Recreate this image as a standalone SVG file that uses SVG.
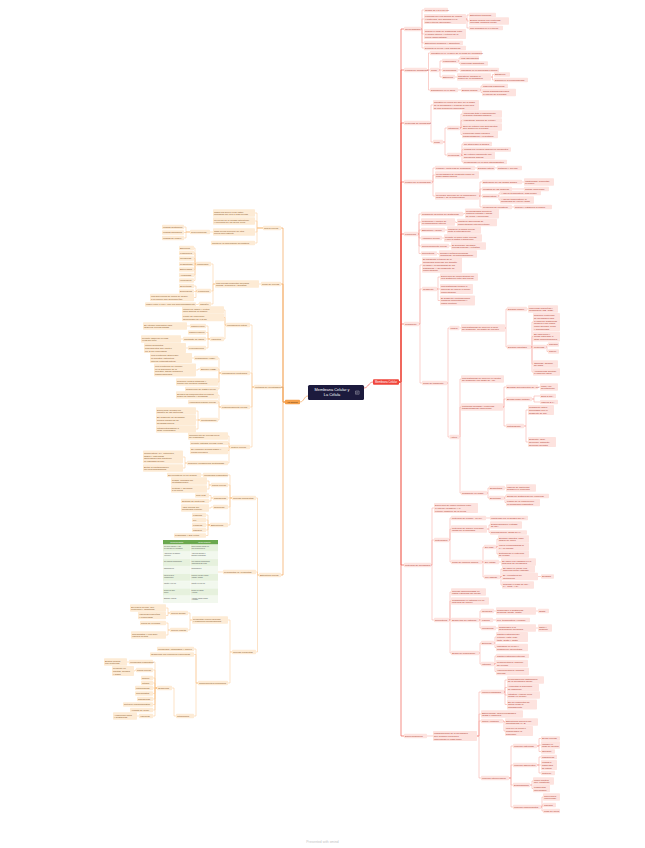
<svg xmlns="http://www.w3.org/2000/svg" width="645" height="848" viewBox="0 0 645 848">
<style>
text{font-family:"Liberation Sans",Arial,sans-serif;font-size:2.4px}
.R rect{fill:#fde3df;rx:.8px}
.R text{fill:#b03a2e}
.L rect{fill:#fdebd5;rx:.8px}
.L text{fill:#8b5a2b}
.cr{fill:none;stroke:#f6a29a;stroke-width:.5}
.cr1{fill:none;stroke:#ef5b50;stroke-width:.7}
.cl{fill:none;stroke:#f8c48f;stroke-width:.5}
.cl1{fill:none;stroke:#f3a456;stroke-width:.7}
.tb text{font-size:1.4px;fill:#4d4d4d}
.big{font-size:3.9px;fill:#fff}
</style>
<rect width="645" height="848" fill="#fff"/>
<g id="connectors">
<path class="cr1" d="M364 388C368 388 369 382 373 382 M399 382H401V29H404 M399 382H401V70H404 M399 382H401V123H404 M399 382H401V182H404 M399 382H401V234H404 M399 382H401V324H404 M399 382H401V565H404 M399 382H401V736H404"/>
<path class="cl1" d="M308 396C304 396 304 402 300 402 M285 402H283V228H281 M285 402H283V284H281 M285 402H283V387H281 M285 402H283V575H281"/>
<path class="cr" d="M421 29H422V10H424 M421 29H422V19H424 M421 29H422V34H424 M421 29H422V43H424 M421 29H422V48H424 M466 19H467V15H469 M466 19H467V21H469 M466 19H467V28H469
M427 70H428.5V53H430 M427 70H428.5V70H430 M427 70H428.5V90H430 M439 70H440V61H442 M439 70H440V70H442 M439 70H440V77H442 M458 61H459V58H460 M458 61H459V63.5H460 M458 70H460 M455 77H457 M491 77H492.5V74.5H494 M491 77H492.5V80H494 M458 90H461 M480 90H481V86H482 M480 90H481V92.5H482
M430 123H431V105H433 M430 123H431V142H433 M443 142H445V128H447 M443 142H445V155H447 M460 128H461V114H462 M460 128H461V120.5H462 M460 128H461V127H462 M460 128H461V134.5H462 M461 155H462V144H463 M461 155H462V149.5H463 M461 155H462V155.5H463 M461 155H462V162H463
M432 182H433V168H435 M432 182H433V175H435 M432 182H433V196H435 M475 168H477 M495 168H497 M479 196H480V182H482 M479 196H480V189H482 M479 196H480V196H482 M479 196H480V207H482 M522 182H524 M512 189H524 M498 196H499V193H500 M498 196H499V200H500 M512 207H514
M418 234H419V214H421 M418 234H419V222H421 M418 234H419V230H421 M418 234H419V238H421 M418 234H419V246H421 M418 234H419V253.5H421 M463 214H464V213.5H465 M455 222H456V222.5H457 M445 230H447 M442 238H444 M449 246H451 M437 253.5H438V254H439
M419 324H420V265H422 M419 324H420V289H422 M419 324H420V383H422 M437 289H438V277H440 M437 289H438V289H440 M437 289H438V300.5H440 M447 383H448V328H449.5 M447 383H448V437H449.5 M459.5 328H461 M505 328H506V309H507 M505 328H506V347H507 M527 309H528 M531 347H532V322H533 M531 347H532V336.5H533 M531 347H532V347H533 M531 347H532V364H533 M531 347H532V372H533 M546 347H547V344.5H548 M546 347H547V351.5H548
M459.5 437H460V379H461 M459.5 437H460V407H461 M459.5 437H460V493H461 M503 407H504V387H506 M503 407H504V399H506 M503 407H504V426H506 M538 387H540 M532 399H534V396H540 M532 399H534V402H540 M524 426H526V410H528 M524 426H526V442H528 M487 493H488V488H489 M487 493H488V498H489 M505 488H506 M504 498H505V496H506 M504 498H505V502.5H506
M431 565H432V508H434 M431 565H432V540H434 M431 565H432V620H434 M449 540H450V518H451 M449 540H450V529H451 M449 540H450V562H451 M486 518H490 M487 529H489V525H490 M487 529H489V532.5H490 M482 562H483V547H484 M482 562H483V562H484 M482 562H483V577H484 M496 547H497V539H498 M496 547H497V546.5H498 M496 547H497V554H498 M499 562H501 M500 577H501V569H502 M500 577H501V576.5H502 M500 577H501V585H502 M538 576.5H541
M449 620H450V592H451 M449 620H450V601H451 M449 620H450V620H451 M449 620H450V653H451 M479 620H480V611H481 M479 620H480V620H481 M479 620H480V628H481 M494 611H496 M536 611H538 M493 620H496 M496 628H498 M536 628H538 M479 653H480V643H481 M479 653H480V664H481 M494 643H495V637H496 M494 643H495V647.5H496 M494 664H495V656H496 M494 664H495V663.5H496 M494 664H495V671.5H496
M427 736H433 M477 736H479V692H481 M477 736H479V714H481 M477 736H479V721H481 M477 736H479V778H481 M504 692H505V680H507 M504 692H505V687.5H507 M504 692H505V695H507 M504 692H505V704.5H507 M503 721H504V722H505 M503 721H504V731H505 M509 778H511V746H513 M509 778H511V765H513 M509 778H511V785H513 M509 778H511V807H513 M537 746H539V738.5H541 M537 746H539V745H541 M537 746H539V751.5H541 M537 765H539V757H541 M537 765H539V765H541 M537 765H539V773H541 M530 785H532V781H533 M530 785H532V788.5H533 M541 807H542V797H543 M541 807H542V805H543 M541 807H542V811H543"/>
<path class="cl" d="M263 228H257V213H255 M263 228H257V221H255 M263 228H257V232H255 M263 228H257V243H255 M213 232H210 M190 232H186V227H184 M190 232H186V232.5H184 M190 232H186V238H184
M261 284H259 M215 284H213V264H211 M215 284H213V291H211 M215 284H213V304H211 M196 264H195V248H194 M196 264H195V253H194 M196 264H195V258.5H194 M196 264H195V264H194 M196 264H195V269.5H194 M196 264H195V275H194 M196 264H195V280.5H194 M197 291H196V286H194 M197 291H196V291.5H194 M197 291H196V297.5H194 M199 304H198V304.5H196
M254 387H252V325H250 M254 387H252V373H250 M254 387H252V407H250 M254 387H252V447H250 M226 325H225V310H224 M226 325H225V317.5H224 M226 325H225V339H224 M210 339H208V326H206 M210 339H208V332.5H206 M210 339H208V339H206 M210 339H208V348H206 M190 326H187 M183 339H181 M188 348H186
M221 373H219V358H218 M221 373H219V369H218 M221 373H219V382H218 M221 373H219V389H218 M194 358H192 M200 369H198V370H196 M221 407H219V395H218 M221 407H219V402H218 M221 407H219V420H218 M200 420H198V411H196 M200 420H198V420H196 M200 420H198V429H196 M230 447H229V436H228 M230 447H229V443H228 M230 447H229V450.5H228 M230 447H229V463H228 M187 463H185V457H183 M187 463H185V468H183
M259 575H257.5V498H256 M259 575H257.5V572H256 M259 575H257.5V652H256 M232 498H230V475H228 M232 498H230V485H228 M232 498H230V498H228 M232 498H230V507H228 M232 498H230V525H228 M203 475H201 M211 485H209V481H207 M211 485H209V489H207 M213 498H211V495.5H209 M213 498H211V501H209 M213 507H211V508H209 M210 525H208V515H206 M210 525H208V520H206 M210 525H208V525H206 M210 525H208V530H206 M210 525H208V535.5H206 M223 572H218
M232 652H230V620H228 M232 652H230V683H228 M192 620H190V613H188 M192 620H190V630H188 M170 613H168V608H166 M170 613H168V615.5H166 M170 630H168V623H166 M170 630H168V635H166 M198 683H196V649H194 M198 683H196V654.5H194 M198 683H196V716H194 M176 716H174V688H172 M157 688H155V662H153 M157 688H155V670H153 M157 688H155V678H153 M157 688H155V683H153 M157 688H155V688H153 M157 688H155V693.5H153 M157 688H155V699H153 M157 688H155V704.5H153 M157 688H155V710H153 M157 688H155V716H153 M129 662H127 M136 670H135V671H134 M139 716H137"/>
</g>
<g id="central"><rect x="308" y="385" width="56" height="15" rx="1.5" fill="#1c1a3d"/><text x="332" y="390.8" text-anchor="middle" class="big">Membrana Celular y</text><text x="332" y="396.4" text-anchor="middle" class="big">La Célula</text><path d="M355.5 391h3.6v3.2h-3.6z M356.3 392.2h2 M356.3 393.2h1.4" fill="none" stroke="#fff" stroke-width=".3"/></g>
<g id="membrana-celular"><rect x="373" y="379.2" width="26" height="5.6" rx="1" fill="#f0453b"/><text x="386" y="383" text-anchor="middle" style="fill:#fff;font-size:2.7px">Membrana Celular</text></g>
<g id="la-celula"><rect x="285" y="399.8" width="15" height="4.4" rx="0.8" fill="#f5a04b"/><text x="292.5" y="403" text-anchor="middle" fill="#4a2c0a">La Célula</text></g>
<g class="R">
<g id="r1"><rect x="404" y="26.65" width="17" height="4.7"/><text x="405" y="29.85">Generalidades</text></g>
<g id="r1a"><rect x="424" y="7.65" width="24" height="4.7"/><text x="425" y="10.85">Grosor de 7,5 a 10 nm</text></g>
<g id="r1b"><rect x="424" y="13.95" width="42" height="10.1"/><text x="425" y="17.15">Formada por una bicapa de lípidos<tspan x="425" dy="2.7">y proteínas, con glúcidos en la</tspan><tspan x="425" dy="2.7">cara externa (glucocálix)</tspan></text></g>
<g id="r1b1"><rect x="469" y="12.65" width="27" height="4.7"/><text x="470" y="15.85">Estructura trilaminar</text></g>
<g id="r1b2"><rect x="469" y="17.3" width="40" height="7.4"/><text x="470" y="20.5">Bicapa lipídica con proteínas<tspan x="470" dy="2.7">incluidas (mosaico fluido)</tspan></text></g>
<g id="r1b3"><rect x="469" y="25.65" width="34" height="4.7"/><text x="470" y="28.85">Con glúcidos en el exterior</text></g>
<g id="r1c"><rect x="424" y="28.95" width="42" height="10.1"/><text x="425" y="32.15">Regula el paso de sustancias entre<tspan x="425" dy="2.7">el medio interno y externo de la</tspan><tspan x="425" dy="2.7">célula (homeostasis)</tspan></text></g>
<g id="r1d"><rect x="424" y="40.65" width="39" height="4.7"/><text x="425" y="43.85">Estructura dinámica y asimétrica</text></g>
<g id="r1e"><rect x="424" y="45.65" width="42" height="4.7"/><text x="425" y="48.85">Delimita la célula y sus organelos</text></g>
<g id="r2"><rect x="404" y="67.65" width="23" height="4.7"/><text x="405" y="70.85">Lípidos de membrana</text></g>
<g id="r2a"><rect x="430" y="50.65" width="52" height="4.7"/><text x="431" y="53.85">Constituyen el 40-50% de la masa de membrana</text></g>
<g id="r2b"><rect x="430" y="67.65" width="9" height="4.7"/><text x="431" y="70.85">Tipos</text></g>
<g id="r2b1"><rect x="442" y="58.65" width="16" height="4.7"/><text x="443" y="61.85">Fosfolípidos</text></g>
<g id="r2b1a"><rect x="460" y="55.65" width="19" height="4.7"/><text x="461" y="58.85">Más abundantes</text></g>
<g id="r2b1b"><rect x="460" y="61.15" width="28" height="4.7"/><text x="461" y="64.35">Moléculas anfipáticas</text></g>
<g id="r2b2"><rect x="442" y="67.65" width="16" height="4.7"/><text x="443" y="70.85">Glucolípidos</text></g>
<g id="r2b2a"><rect x="460" y="67.65" width="39" height="4.7"/><text x="461" y="70.85">Ubicados en la monocapa externa</text></g>
<g id="r2b3"><rect x="442" y="74.65" width="13" height="4.7"/><text x="443" y="77.85">Esteroles</text></g>
<g id="r2b3a"><rect x="457" y="73.3" width="34" height="7.4"/><text x="458" y="76.5">Colesterol: modula la<tspan x="458" dy="2.7">fluidez de la membrana</tspan></text></g>
<g id="r2b3b"><rect x="494" y="72.15" width="16" height="4.7"/><text x="495" y="75.35">Estabiliza</text></g>
<g id="r2b3c"><rect x="494" y="77.65" width="34" height="4.7"/><text x="495" y="80.85">Disminuye la permeabilidad</text></g>
<g id="r2c"><rect x="430" y="87.65" width="28" height="4.7"/><text x="431" y="90.85">Disposición en el agua</text></g>
<g id="r2c1"><rect x="461" y="87.65" width="19" height="4.7"/><text x="462" y="90.85">Bicapa lipídica</text></g>
<g id="r2c1a"><rect x="482" y="83.65" width="26" height="4.7"/><text x="483" y="86.85">Cabezas hidrofílicas</text></g>
<g id="r2c1b"><rect x="482" y="88.8" width="34" height="7.4"/><text x="483" y="92">Colas hidrofóbicas hacia<tspan x="483" dy="2.7">el interior de la bicapa</tspan></text></g>
<g id="r3"><rect x="404" y="120.65" width="26" height="4.7"/><text x="405" y="123.85">Proteínas de membrana</text></g>
<g id="r3a"><rect x="433" y="99.95" width="46" height="10.1"/><text x="434" y="103.15">Constituyen cerca del 50% de la masa<tspan x="434" dy="2.7">de la membrana y realizan la mayoría</tspan><tspan x="434" dy="2.7">de sus funciones específicas</tspan></text></g>
<g id="r3b"><rect x="433" y="139.65" width="10" height="4.7"/><text x="434" y="142.85">Tipos</text></g>
<g id="r3b1"><rect x="447" y="125.65" width="13" height="4.7"/><text x="448" y="128.85">Integrales</text></g>
<g id="r3b1a"><rect x="462" y="110.3" width="40" height="7.4"/><text x="463" y="113.5">Atraviesan total o parcialmente<tspan x="463" dy="2.7">la bicapa (transmembrana)</tspan></text></g>
<g id="r3b1b"><rect x="462" y="118.15" width="40" height="4.7"/><text x="463" y="121.35">Anfipáticas, difíciles de extraer</text></g>
<g id="r3b1c"><rect x="462" y="123.3" width="40" height="7.4"/><text x="463" y="126.5">Solo se extraen con detergentes<tspan x="463" dy="2.7">que destruyen la bicapa</tspan></text></g>
<g id="r3b1d"><rect x="462" y="130.8" width="36" height="7.4"/><text x="463" y="134">Funcionan como canales,<tspan x="463" dy="2.7">transportadores y receptores</tspan></text></g>
<g id="r3b2"><rect x="447" y="152.65" width="14" height="4.7"/><text x="448" y="155.85">Periféricas</text></g>
<g id="r3b2a"><rect x="463" y="141.65" width="29" height="4.7"/><text x="464" y="144.85">No atraviesan la bicapa</text></g>
<g id="r3b2b"><rect x="463" y="147.15" width="48" height="4.7"/><text x="464" y="150.35">Unidas por enlaces débiles no covalentes</text></g>
<g id="r3b2c"><rect x="463" y="151.8" width="32" height="7.4"/><text x="464" y="155">Se extraen fácilmente con<tspan x="464" dy="2.7">soluciones salinas</tspan></text></g>
<g id="r3b2d"><rect x="463" y="159.65" width="44" height="4.7"/><text x="464" y="162.85">Predominan en la cara citoplasmática</text></g>
<g id="r4"><rect x="404" y="179.65" width="28" height="4.7"/><text x="405" y="182.85">Fluidez de la membrana</text></g>
<g id="r4a"><rect x="435" y="165.65" width="40" height="4.7"/><text x="436" y="168.85">Lípidos y proteínas se desplazan</text></g>
<g id="r4a1"><rect x="477" y="165.65" width="18" height="4.7"/><text x="478" y="168.85">Difusión lateral</text></g>
<g id="r4a2"><rect x="497" y="165.65" width="25" height="4.7"/><text x="498" y="168.85">Rotación y flip-flop</text></g>
<g id="r4b"><rect x="435" y="171.3" width="44" height="7.4"/><text x="436" y="174.5">La membrana se comporta como un<tspan x="436" dy="2.7">fluido bidimensional</tspan></text></g>
<g id="r4c"><rect x="435" y="192.3" width="44" height="7.4"/><text x="436" y="195.5">La fluidez depende de la composición<tspan x="436" dy="2.7">lipídica y de la temperatura</tspan></text></g>
<g id="r4c1"><rect x="482" y="179.65" width="40" height="4.7"/><text x="483" y="182.85">Saturación de los ácidos grasos</text></g>
<g id="r4c1a"><rect x="524" y="178.3" width="30" height="7.4"/><text x="525" y="181.5">Insaturados: aumentan<tspan x="525" dy="2.7">la fluidez</tspan></text></g>
<g id="r4c2"><rect x="482" y="186.65" width="30" height="4.7"/><text x="483" y="189.85">Longitud de las cadenas</text></g>
<g id="r4c2a"><rect x="524" y="186.65" width="25" height="4.7"/><text x="525" y="189.85">Cortas: más fluida</text></g>
<g id="r4c3"><rect x="482" y="193.65" width="16" height="4.7"/><text x="483" y="196.85">Temperatura</text></g>
<g id="r4c3a"><rect x="500" y="190.65" width="41" height="4.7"/><text x="501" y="193.85">A mayor temperatura, más fluidez</text></g>
<g id="r4c3b"><rect x="500" y="196.3" width="34" height="7.4"/><text x="501" y="199.5">A menor temperatura, la<tspan x="501" dy="2.7">membrana se vuelve rígida</tspan></text></g>
<g id="r4c4"><rect x="482" y="204.65" width="30" height="4.7"/><text x="483" y="207.85">Presencia de colesterol</text></g>
<g id="r4c4a"><rect x="514" y="204.65" width="38" height="4.7"/><text x="515" y="207.85">Regula y estabiliza la fluidez</text></g>
<g id="r5"><rect x="404" y="231.65" width="14" height="4.7"/><text x="405" y="234.85">Funciones</text></g>
<g id="r5a"><rect x="421" y="211.65" width="42" height="4.7"/><text x="422" y="214.85">Transporte selectivo de sustancias</text></g>
<g id="r5a1"><rect x="465" y="208.45" width="34" height="10.1"/><text x="466" y="211.65">Permeabilidad selectiva:<tspan x="466" dy="2.7">controla entrada y salida</tspan><tspan x="466" dy="2.7">de iones y moléculas</tspan></text></g>
<g id="r5b"><rect x="421" y="218.3" width="34" height="7.4"/><text x="422" y="221.5">Protección y control de<tspan x="422" dy="2.7">la composición interna</tspan></text></g>
<g id="r5b1"><rect x="457" y="218.8" width="40" height="7.4"/><text x="458" y="222">Mantiene diferencias de<tspan x="458" dy="2.7">concentración interior/exterior</tspan></text></g>
<g id="r5c"><rect x="421" y="227.65" width="24" height="4.7"/><text x="422" y="230.85">Estructura y forma</text></g>
<g id="r5c1"><rect x="447" y="226.3" width="34" height="7.4"/><text x="448" y="229.5">Mantiene la forma celular<tspan x="448" dy="2.7">junto al citoesqueleto</tspan></text></g>
<g id="r5d"><rect x="421" y="235.65" width="21" height="4.7"/><text x="422" y="238.85">Adhesión celular</text></g>
<g id="r5d1"><rect x="444" y="234.3" width="38" height="7.4"/><text x="445" y="237.5">Permite la unión entre células<tspan x="445" dy="2.7">y con la matriz extracelular</tspan></text></g>
<g id="r5e"><rect x="421" y="243.65" width="28" height="4.7"/><text x="422" y="246.85">Reconocimiento celular</text></g>
<g id="r5e1"><rect x="451" y="242.3" width="35" height="7.4"/><text x="452" y="245.5">El glucocálix identifica<tspan x="452" dy="2.7">células propias y extrañas</tspan></text></g>
<g id="r5f"><rect x="421" y="251.15" width="16" height="4.7"/><text x="422" y="254.35">Receptores</text></g>
<g id="r5f1"><rect x="439" y="250.3" width="38" height="7.4"/><text x="440" y="253.5">Reciben señales químicas<tspan x="440" dy="2.7">(hormonas, neurotransmisores)</tspan></text></g>
<g id="r6"><rect x="404" y="321.65" width="15" height="4.7"/><text x="405" y="324.85">Transporte</text></g>
<g id="r6a"><rect x="422" y="257.25" width="40" height="15.5"/><text x="423" y="260.45">El transporte a través de la<tspan x="423" dy="2.7">membrana depende del tamaño,</tspan><tspan x="423" dy="2.7">la carga y la solubilidad de las</tspan><tspan x="423" dy="2.7">sustancias, y del gradiente de</tspan><tspan x="423" dy="2.7">concentración</tspan></text></g>
<g id="r6b"><rect x="422" y="286.65" width="15" height="4.7"/><text x="423" y="289.85">Gradiente</text></g>
<g id="r6b1"><rect x="440" y="273.3" width="38" height="7.4"/><text x="441" y="276.5">Diferencia de concentración de<tspan x="441" dy="2.7">una sustancia entre dos zonas</tspan></text></g>
<g id="r6b2"><rect x="440" y="283.95" width="33" height="10.1"/><text x="441" y="287.15">Las sustancias tienden a<tspan x="441" dy="2.7">moverse de mayor a menor</tspan><tspan x="441" dy="2.7">concentración</tspan></text></g>
<g id="r6b3"><rect x="440" y="295.45" width="35" height="10.1"/><text x="441" y="298.65">El gradiente electroquímico<tspan x="441" dy="2.7">combina concentración y</tspan><tspan x="441" dy="2.7">carga eléctrica</tspan></text></g>
<g id="r6c"><rect x="422" y="380.65" width="25" height="4.7"/><text x="423" y="383.85">Tipos de transporte</text></g>
<g id="r6c1"><rect x="449.5" y="325.65" width="10" height="4.7"/><text x="450.5" y="328.85">Pasivo</text></g>
<g id="r6c1a"><rect x="461" y="324.3" width="44" height="7.4"/><text x="462" y="327.5">Las sustancias se mueven a favor<tspan x="462" dy="2.7">del gradiente, sin gasto de energía</tspan></text></g>
<g id="r6c1b"><rect x="507" y="306.65" width="20" height="4.7"/><text x="508" y="309.85">Difusión simple</text></g>
<g id="r6c1b1"><rect x="528" y="305.3" width="30" height="7.4"/><text x="529" y="308.5">Moléculas pequeñas y<tspan x="529" dy="2.7">liposolubles (O2, CO2)</tspan></text></g>
<g id="r6c1c"><rect x="507" y="344.65" width="24" height="4.7"/><text x="508" y="347.85">Difusión facilitada</text></g>
<g id="r6c1c1"><rect x="533" y="312.9" width="27" height="18.2"/><text x="534" y="316.1">Requiere proteínas<tspan x="534" dy="2.7">de membrana para</tspan><tspan x="534" dy="2.7">el paso de sustancias</tspan><tspan x="534" dy="2.7">polares o con carga,</tspan><tspan x="534" dy="2.7">como glucosa, iones</tspan><tspan x="534" dy="2.7">y aminoácidos</tspan></text></g>
<g id="r6c1c2"><rect x="533" y="331.45" width="27" height="10.1"/><text x="534" y="334.65">Es específica y<tspan x="534" dy="2.7">puede saturarse a</tspan><tspan x="534" dy="2.7">altas concentraciones</tspan></text></g>
<g id="r6c1c3"><rect x="533" y="344.65" width="13" height="4.7"/><text x="534" y="347.85">Proteínas</text></g>
<g id="r6c1c3a"><rect x="548" y="342.15" width="11" height="4.7"/><text x="549" y="345.35">Canales</text></g>
<g id="r6c1c3b"><rect x="548" y="349.15" width="11" height="4.7"/><text x="549" y="352.35">Carrier</text></g>
<g id="r6c1c4"><rect x="533" y="360.3" width="25" height="7.4"/><text x="534" y="363.5">Ósmosis: difusión<tspan x="534" dy="2.7">del agua</tspan></text></g>
<g id="r6c1c5"><rect x="533" y="368.3" width="27" height="7.4"/><text x="534" y="371.5">Acuaporinas facilitan<tspan x="534" dy="2.7">el paso del agua</tspan></text></g>
<g id="r6c2"><rect x="449.5" y="434.65" width="10" height="4.7"/><text x="450.5" y="437.85">Activo</text></g>
<g id="r6c2a"><rect x="461" y="375.3" width="43" height="7.4"/><text x="462" y="378.5">Las sustancias se mueven en contra<tspan x="462" dy="2.7">del gradiente con gasto de ATP</tspan></text></g>
<g id="r6c2b"><rect x="461" y="403.3" width="42" height="7.4"/><text x="462" y="406.5">Participan bombas y proteínas<tspan x="462" dy="2.7">transportadoras específicas</tspan></text></g>
<g id="r6c2b1"><rect x="506" y="384.65" width="32" height="4.7"/><text x="507" y="387.85">Bombas dependientes de ATP</text></g>
<g id="r6c2b1a"><rect x="540" y="383.3" width="18" height="7.4"/><text x="541" y="386.5">Usan ATP<tspan x="541" dy="2.7">directamente</tspan></text></g>
<g id="r6c2b2"><rect x="506" y="396.65" width="26" height="4.7"/><text x="507" y="399.85">Bomba sodio-potasio</text></g>
<g id="r6c2b2a"><rect x="540" y="393.65" width="16" height="4.7"/><text x="541" y="396.85">Saca 3 Na+</text></g>
<g id="r6c2b2b"><rect x="540" y="399.65" width="18" height="4.7"/><text x="541" y="402.85">Ingresa 2 K+</text></g>
<g id="r6c2b3"><rect x="506" y="423.65" width="18" height="4.7"/><text x="507" y="426.85">Cotransporte</text></g>
<g id="r6c2b3a"><rect x="528" y="404.95" width="26" height="10.1"/><text x="529" y="408.15">Transporte activo<tspan x="529" dy="2.7">secundario con el</tspan><tspan x="529" dy="2.7">gradiente de Na+</tspan></text></g>
<g id="r6c2b3b"><rect x="528" y="436.95" width="28" height="10.1"/><text x="529" y="440.15">Simporte: igual<tspan x="529" dy="2.7">dirección; antiporte:</tspan><tspan x="529" dy="2.7">dirección opuesta</tspan></text></g>
<g id="r6c2c"><rect x="461" y="490.65" width="26" height="4.7"/><text x="462" y="493.85">Transporte en masa</text></g>
<g id="r6c2c1"><rect x="489" y="485.65" width="16" height="4.7"/><text x="490" y="488.85">Endocitosis</text></g>
<g id="r6c2c1a"><rect x="506" y="484.3" width="30" height="7.4"/><text x="507" y="487.5">Ingreso de partículas<tspan x="507" dy="2.7">grandes en vesículas</tspan></text></g>
<g id="r6c2c2"><rect x="489" y="495.65" width="15" height="4.7"/><text x="490" y="498.85">Exocitosis</text></g>
<g id="r6c2c2a"><rect x="506" y="493.65" width="43" height="4.7"/><text x="507" y="496.85">Salida de sustancias por vesículas</text></g>
<g id="r6c2c2b"><rect x="506" y="498.8" width="34" height="7.4"/><text x="507" y="502">Fusión de la vesícula con<tspan x="507" dy="2.7">la membrana plasmática</tspan></text></g>
<g id="r7"><rect x="404" y="562.65" width="27" height="4.7"/><text x="405" y="565.85">Potencial de membrana</text></g>
<g id="r7a"><rect x="434" y="502.95" width="44" height="10.1"/><text x="435" y="506.15">Diferencia de carga eléctrica entre<tspan x="435" dy="2.7">el interior (negativo) y el</tspan><tspan x="435" dy="2.7">exterior (positivo) de la célula</tspan></text></g>
<g id="r7b"><rect x="434" y="537.65" width="15" height="4.7"/><text x="435" y="540.85">Potenciales</text></g>
<g id="r7b1"><rect x="451" y="515.65" width="35" height="4.7"/><text x="452" y="518.85">Potencial de reposo: -70 mV</text></g>
<g id="r7b1a"><rect x="490" y="515.65" width="38" height="4.7"/><text x="491" y="518.85">Mantenido por la bomba Na+/K+</text></g>
<g id="r7b2"><rect x="451" y="525.3" width="36" height="7.4"/><text x="452" y="528.5">Potencial de acción: inversión<tspan x="452" dy="2.7">rápida de la polaridad</tspan></text></g>
<g id="r7b2a"><rect x="490" y="521.3" width="32" height="7.4"/><text x="491" y="524.5">Despolarización: entrada<tspan x="491" dy="2.7">de Na+</tspan></text></g>
<g id="r7b2b"><rect x="490" y="530.15" width="37" height="4.7"/><text x="491" y="533.35">Repolarización: salida de K+</text></g>
<g id="r7b3"><rect x="451" y="559.65" width="31" height="4.7"/><text x="452" y="562.85">Tipos de canales iónicos</text></g>
<g id="r7b3a"><rect x="484" y="544.65" width="12" height="4.7"/><text x="485" y="547.85">De fuga</text></g>
<g id="r7b3a1"><rect x="498" y="535.3" width="31" height="7.4"/><text x="499" y="538.5">Siempre abiertos, paso<tspan x="499" dy="2.7">pasivo de iones</tspan></text></g>
<g id="r7b3a2"><rect x="498" y="542.8" width="31" height="7.4"/><text x="499" y="546">Mayor permeabilidad al<tspan x="499" dy="2.7">K+ en reposo</tspan></text></g>
<g id="r7b3a3"><rect x="498" y="550.3" width="31" height="7.4"/><text x="499" y="553.5">Determinan el potencial<tspan x="499" dy="2.7">de reposo</tspan></text></g>
<g id="r7b3b"><rect x="484" y="559.65" width="15" height="4.7"/><text x="485" y="562.85">De voltaje</text></g>
<g id="r7b3b1"><rect x="501" y="558.3" width="35" height="7.4"/><text x="502" y="561.5">Se abren por cambios en el<tspan x="502" dy="2.7">potencial de membrana</tspan></text></g>
<g id="r7b3c"><rect x="484" y="574.65" width="16" height="4.7"/><text x="485" y="577.85">Por ligando</text></g>
<g id="r7b3c1"><rect x="502" y="565.3" width="33" height="7.4"/><text x="503" y="568.5">Se abren al unirse una<tspan x="503" dy="2.7">molécula señal (ligando)</tspan></text></g>
<g id="r7b3c2"><rect x="502" y="572.8" width="36" height="7.4"/><text x="503" y="576">Ej.: receptores de<tspan x="503" dy="2.7">acetilcolina</tspan></text></g>
<g id="r7b3c2a"><rect x="541" y="574.15" width="13" height="4.7"/><text x="542" y="577.35">Sinapsis</text></g>
<g id="r7b3c3"><rect x="502" y="581.3" width="32" height="7.4"/><text x="503" y="584.5">Regulan el paso de Na+,<tspan x="503" dy="2.7">K+, Ca2+ y Cl-</tspan></text></g>
<g id="r7c"><rect x="434" y="617.65" width="15" height="4.7"/><text x="435" y="620.85">Receptores</text></g>
<g id="r7c1"><rect x="451" y="588.3" width="35" height="7.4"/><text x="452" y="591.5">Células especializadas en<tspan x="452" dy="2.7">captar estímulos del medio</tspan></text></g>
<g id="r7c2"><rect x="451" y="597.3" width="38" height="7.4"/><text x="452" y="600.5">Transforman el estímulo en un<tspan x="452" dy="2.7">potencial de acción</tspan></text></g>
<g id="r7c3"><rect x="451" y="617.65" width="28" height="4.7"/><text x="452" y="620.85">Según tipo de estímulo</text></g>
<g id="r7c3a"><rect x="481" y="608.65" width="13" height="4.7"/><text x="482" y="611.85">Químicos</text></g>
<g id="r7c3a1"><rect x="496" y="607.3" width="40" height="7.4"/><text x="497" y="610.5">Responden a sustancias<tspan x="497" dy="2.7">químicas (gusto, olfato)</tspan></text></g>
<g id="r7c3a2"><rect x="538" y="608.65" width="11" height="4.7"/><text x="539" y="611.85">Olfato</text></g>
<g id="r7c3b"><rect x="481" y="617.65" width="12" height="4.7"/><text x="482" y="620.85">Físicos</text></g>
<g id="r7c3b1"><rect x="496" y="617.65" width="34" height="4.7"/><text x="497" y="620.85">Luz, temperatura y presión</text></g>
<g id="r7c3c"><rect x="481" y="625.65" width="15" height="4.7"/><text x="482" y="628.85">Mecánicos</text></g>
<g id="r7c3c1"><rect x="498" y="624.3" width="38" height="7.4"/><text x="499" y="627.5">Responden a la<tspan x="499" dy="2.7">deformación mecánica</tspan></text></g>
<g id="r7c3c2"><rect x="538" y="624.3" width="14" height="7.4"/><text x="539" y="627.5">Tacto y<tspan x="539" dy="2.7">audición</tspan></text></g>
<g id="r7c4"><rect x="451" y="650.65" width="28" height="4.7"/><text x="452" y="653.85">Según su localización</text></g>
<g id="r7c4a"><rect x="481" y="640.65" width="13" height="4.7"/><text x="482" y="643.85">Externos</text></g>
<g id="r7c4a1"><rect x="496" y="631.95" width="32" height="10.1"/><text x="497" y="635.15">Captan estímulos del<tspan x="497" dy="2.7">exterior: vista, oído,</tspan><tspan x="497" dy="2.7">tacto, gusto y olfato</tspan></text></g>
<g id="r7c4a2"><rect x="496" y="643.8" width="32" height="7.4"/><text x="497" y="647">Ubicados en la piel y<tspan x="497" dy="2.7">órganos de los sentidos</tspan></text></g>
<g id="r7c4b"><rect x="481" y="661.65" width="13" height="4.7"/><text x="482" y="664.85">Internos</text></g>
<g id="r7c4b1"><rect x="496" y="653.65" width="33" height="4.7"/><text x="497" y="656.85">Captan estímulos internos</text></g>
<g id="r7c4b2"><rect x="496" y="659.8" width="32" height="7.4"/><text x="497" y="663">Propioceptores: posición<tspan x="497" dy="2.7">del cuerpo</tspan></text></g>
<g id="r7c4b3"><rect x="496" y="667.8" width="33" height="7.4"/><text x="497" y="671">Visceroceptores: órganos<tspan x="497" dy="2.7">internos</tspan></text></g>
<g id="r8"><rect x="404" y="733.65" width="23" height="4.7"/><text x="405" y="736.85">Diferenciaciones</text></g>
<g id="r8a"><rect x="433" y="730.95" width="44" height="10.1"/><text x="434" y="734.15">Modificaciones de la membrana<tspan x="434" dy="2.7">que cumplen funciones</tspan><tspan x="434" dy="2.7">específicas en cada tejido</tspan></text></g>
<g id="r8a1"><rect x="481" y="689.65" width="23" height="4.7"/><text x="482" y="692.85">Microvellosidades</text></g>
<g id="r8a1a"><rect x="507" y="676.3" width="37" height="7.4"/><text x="508" y="679.5">Prolongaciones digitiformes<tspan x="508" dy="2.7">de la membrana apical</tspan></text></g>
<g id="r8a1b"><rect x="507" y="683.8" width="32" height="7.4"/><text x="508" y="687">Aumentan la superficie<tspan x="508" dy="2.7">de absorción</tspan></text></g>
<g id="r8a1c"><rect x="507" y="691.3" width="33" height="7.4"/><text x="508" y="694.5">Intestino y túbulo renal<tspan x="508" dy="2.7">(borde en cepillo)</tspan></text></g>
<g id="r8a1d"><rect x="507" y="699.45" width="30" height="10.1"/><text x="508" y="702.65">Eje de filamentos de<tspan x="508" dy="2.7">actina unido al</tspan><tspan x="508" dy="2.7">citoesqueleto</tspan></text></g>
<g id="r8a2"><rect x="481" y="710.3" width="42" height="7.4"/><text x="482" y="713.5">Estereocilios: microvellosidades<tspan x="482" dy="2.7">largas e inmóviles</tspan></text></g>
<g id="r8a3"><rect x="481" y="718.65" width="22" height="4.7"/><text x="482" y="721.85">Cilios y flagelos</text></g>
<g id="r8a3a"><rect x="505" y="718.3" width="33" height="7.4"/><text x="506" y="721.5">Estructuras móviles con<tspan x="506" dy="2.7">microtúbulos (9+2)</tspan></text></g>
<g id="r8a3b"><rect x="505" y="725.95" width="28" height="10.1"/><text x="506" y="729.15">Mueven la célula o<tspan x="506" dy="2.7">fluidos sobre la</tspan><tspan x="506" dy="2.7">superficie</tspan></text></g>
<g id="r8a4"><rect x="481" y="775.65" width="28" height="4.7"/><text x="482" y="778.85">Uniones intercelulares</text></g>
<g id="r8a4a"><rect x="513" y="743.65" width="24" height="4.7"/><text x="514" y="746.85">Uniones estrechas</text></g>
<g id="r8a4a1"><rect x="541" y="736.15" width="19" height="4.7"/><text x="542" y="739.35">Sellan células</text></g>
<g id="r8a4a2"><rect x="541" y="741.3" width="19" height="7.4"/><text x="542" y="744.5">Impiden el<tspan x="542" dy="2.7">paso de solutos</tspan></text></g>
<g id="r8a4a3"><rect x="541" y="749.15" width="14" height="4.7"/><text x="542" y="752.35">Oclusión</text></g>
<g id="r8a4b"><rect x="513" y="762.65" width="24" height="4.7"/><text x="514" y="765.85">Uniones adherentes</text></g>
<g id="r8a4b1"><rect x="541" y="754.65" width="16" height="4.7"/><text x="542" y="757.85">Cadherinas</text></g>
<g id="r8a4b2"><rect x="541" y="759.95" width="16" height="10.1"/><text x="542" y="763.15">Unidas a<tspan x="542" dy="2.7">filamentos</tspan><tspan x="542" dy="2.7">de actina</tspan></text></g>
<g id="r8a4b3"><rect x="541" y="770.65" width="14" height="4.7"/><text x="542" y="773.85">Cinturón</text></g>
<g id="r8a4c"><rect x="513" y="782.65" width="17" height="4.7"/><text x="514" y="785.85">Desmosomas</text></g>
<g id="r8a4c1"><rect x="533" y="777.3" width="21" height="7.4"/><text x="534" y="780.5">Unión puntual<tspan x="534" dy="2.7">muy resistente</tspan></text></g>
<g id="r8a4c2"><rect x="533" y="784.8" width="17" height="7.4"/><text x="534" y="788">Filamentos<tspan x="534" dy="2.7">intermedios</tspan></text></g>
<g id="r8a4d"><rect x="513" y="804.65" width="28" height="4.7"/><text x="514" y="807.85">Uniones comunicantes</text></g>
<g id="r8a4d1"><rect x="543" y="793.3" width="17" height="7.4"/><text x="544" y="796.5">Conexones<tspan x="544" dy="2.7">(conexinas)</tspan></text></g>
<g id="r8a4d2"><rect x="543" y="802.65" width="13" height="4.7"/><text x="544" y="805.85">Canales</text></g>
<g id="r8a4d3"><rect x="543" y="808.65" width="17" height="4.7"/><text x="544" y="811.85">Paso de iones</text></g>
</g>
<g class="L">
<g id="l1"><rect x="263" y="225.65" width="18" height="4.7"/><text x="264" y="228.85">Teoría celular</text></g>
<g id="l1a"><rect x="213" y="209.3" width="42" height="7.4"/><text x="214" y="212.5">Todos los seres vivos están<tspan x="214" dy="2.7">formados por una o más células</tspan></text></g>
<g id="l1b"><rect x="213" y="217.3" width="42" height="7.4"/><text x="214" y="220.5">La célula es la unidad estructural<tspan x="214" dy="2.7">y funcional de los seres vivos</tspan></text></g>
<g id="l1c"><rect x="213" y="228.3" width="42" height="7.4"/><text x="214" y="231.5">Toda célula proviene de otra<tspan x="214" dy="2.7">célula preexistente</tspan></text></g>
<g id="l1c1"><rect x="190" y="229.65" width="20" height="4.7"/><text x="191" y="232.85">Tres principios</text></g>
<g id="l1c1a"><rect x="162" y="224.65" width="22" height="4.7"/><text x="163" y="227.85">Unidad anatómica</text></g>
<g id="l1c1b"><rect x="162" y="230.15" width="22" height="4.7"/><text x="163" y="233.35">Unidad fisiológica</text></g>
<g id="l1c1c"><rect x="162" y="235.65" width="22" height="4.7"/><text x="163" y="238.85">Unidad de origen</text></g>
<g id="l1d"><rect x="211" y="240.65" width="44" height="4.7"/><text x="212" y="243.85">Contiene la información hereditaria</text></g>
<g id="l2"><rect x="261" y="281.65" width="20" height="4.7"/><text x="262" y="284.85">Tipos de células</text></g>
<g id="l2a"><rect x="215" y="280.3" width="44" height="7.4"/><text x="216" y="283.5">Las células presentan diversas<tspan x="216" dy="2.7">formas, funciones y tamaños</tspan></text></g>
<g id="l2a1"><rect x="196" y="261.65" width="15" height="4.7"/><text x="197" y="264.85">Morfología</text></g>
<g id="l2a1a"><rect x="179" y="245.65" width="15" height="4.7"/><text x="180" y="248.85">Esféricas</text></g>
<g id="l2a1b"><rect x="179" y="250.65" width="15" height="4.7"/><text x="180" y="253.85">Fusiformes</text></g>
<g id="l2a1c"><rect x="179" y="256.15" width="15" height="4.7"/><text x="180" y="259.35">Cilíndricas</text></g>
<g id="l2a1d"><rect x="179" y="261.65" width="15" height="4.7"/><text x="180" y="264.85">Prismáticas</text></g>
<g id="l2a1e"><rect x="179" y="267.15" width="15" height="4.7"/><text x="180" y="270.35">Estrelladas</text></g>
<g id="l2a1f"><rect x="179" y="272.65" width="15" height="4.7"/><text x="180" y="275.85">Aplanadas</text></g>
<g id="l2a1g"><rect x="179" y="278.15" width="15" height="4.7"/><text x="180" y="281.35">Irregulares</text></g>
<g id="l2a2"><rect x="197" y="288.65" width="14" height="4.7"/><text x="198" y="291.85">Funciones</text></g>
<g id="l2a2a"><rect x="179" y="283.65" width="15" height="4.7"/><text x="180" y="286.85">Secretoras</text></g>
<g id="l2a2b"><rect x="179" y="289.15" width="15" height="4.7"/><text x="180" y="292.35">Defensivas</text></g>
<g id="l2a2c"><rect x="150" y="293.8" width="44" height="7.4"/><text x="151" y="297">Las diferencias de forma se deben<tspan x="151" dy="2.7">a la función que desempeñan</tspan></text></g>
<g id="l2a3"><rect x="199" y="301.65" width="12" height="4.7"/><text x="200" y="304.85">Tamaño</text></g>
<g id="l2a3a"><rect x="145" y="302.15" width="51" height="4.7"/><text x="146" y="305.35">Miden entre 1 µm y 100 µm aproximadamente</text></g>
<g id="l3"><rect x="254" y="384.65" width="27" height="4.7"/><text x="255" y="387.85">Métodos de investigación</text></g>
<g id="l3a"><rect x="226" y="322.65" width="24" height="4.7"/><text x="227" y="325.85">Microscopía óptica</text></g>
<g id="l3a1"><rect x="182" y="306.3" width="42" height="7.4"/><text x="183" y="309.5">Utiliza luz visible y lentes<tspan x="183" dy="2.7">para ampliar la imagen</tspan></text></g>
<g id="l3a2"><rect x="182" y="313.8" width="42" height="7.4"/><text x="183" y="317">Límite de resolución<tspan x="183" dy="2.7">aproximado de 0,2 µm</tspan></text></g>
<g id="l3a3"><rect x="210" y="336.65" width="14" height="4.7"/><text x="211" y="339.85">Variantes</text></g>
<g id="l3a3a"><rect x="190" y="323.65" width="16" height="4.7"/><text x="191" y="326.85">Campo claro</text></g>
<g id="l3a3a1"><rect x="143" y="322.3" width="44" height="7.4"/><text x="144" y="325.5">Se utilizan colorantes para<tspan x="144" dy="2.7">observar células fijadas</tspan></text></g>
<g id="l3a3b"><rect x="188" y="330.15" width="18" height="4.7"/><text x="189" y="333.35">Campo oscuro</text></g>
<g id="l3a3c"><rect x="183" y="336.65" width="23" height="4.7"/><text x="184" y="339.85">Contraste de fases</text></g>
<g id="l3a3c1"><rect x="141" y="335.3" width="40" height="7.4"/><text x="142" y="338.5">Permite observar células<tspan x="142" dy="2.7">vivas sin teñir</tspan></text></g>
<g id="l3a3d"><rect x="188" y="345.65" width="18" height="4.7"/><text x="189" y="348.85">Fluorescencia</text></g>
<g id="l3a3d1"><rect x="144" y="342.95" width="42" height="10.1"/><text x="145" y="346.15">Utiliza colorantes<tspan x="145" dy="2.7">fluorescentes que emiten</tspan><tspan x="145" dy="2.7">luz al ser iluminados</tspan></text></g>
<g id="l3b"><rect x="221" y="370.65" width="29" height="4.7"/><text x="222" y="373.85">Microscopía electrónica</text></g>
<g id="l3b1"><rect x="194" y="355.65" width="24" height="4.7"/><text x="195" y="358.85">Transmisión (MET)</text></g>
<g id="l3b1a"><rect x="150" y="352.95" width="42" height="10.1"/><text x="151" y="356.15">Los electrones atraviesan<tspan x="151" dy="2.7">la muestra: estructura</tspan><tspan x="151" dy="2.7">interna (ultraestructura)</tspan></text></g>
<g id="l3b2"><rect x="200" y="366.65" width="18" height="4.7"/><text x="201" y="369.85">Barrido (MEB)</text></g>
<g id="l3b2a"><rect x="154" y="363.6" width="42" height="12.8"/><text x="155" y="366.8">Los electrones se reflejan<tspan x="155" dy="2.7">en la superficie de la</tspan><tspan x="155" dy="2.7">muestra, dando imágenes</tspan><tspan x="155" dy="2.7">tridimensionales</tspan></text></g>
<g id="l3b3"><rect x="176" y="378.3" width="42" height="7.4"/><text x="177" y="381.5">Requiere cortes ultrafinos y<tspan x="177" dy="2.7">tinción con metales pesados</tspan></text></g>
<g id="l3b4"><rect x="185" y="386.65" width="33" height="4.7"/><text x="186" y="389.85">Resolución de hasta 0,2 nm</text></g>
<g id="l3c"><rect x="221" y="404.65" width="29" height="4.7"/><text x="222" y="407.85">Fraccionamiento celular</text></g>
<g id="l3c1"><rect x="176" y="391.3" width="42" height="7.4"/><text x="177" y="394.5">Separa los componentes celulares<tspan x="177" dy="2.7">según su tamaño y densidad</tspan></text></g>
<g id="l3c2"><rect x="188" y="399.65" width="30" height="4.7"/><text x="189" y="402.85">Homogeneización celular</text></g>
<g id="l3c3"><rect x="200" y="417.65" width="18" height="4.7"/><text x="201" y="420.85">Centrifugación</text></g>
<g id="l3c3a"><rect x="156" y="407.3" width="40" height="7.4"/><text x="157" y="410.5">Diferencial: separa por<tspan x="157" dy="2.7">tamaño de las partículas</tspan></text></g>
<g id="l3c3b"><rect x="156" y="414.95" width="40" height="10.1"/><text x="157" y="418.15">En gradiente de densidad:<tspan x="157" dy="2.7">separa organelos de</tspan><tspan x="157" dy="2.7">densidad similar</tspan></text></g>
<g id="l3c3c"><rect x="156" y="425.3" width="40" height="7.4"/><text x="157" y="428.5">Ultracentrifugación a<tspan x="157" dy="2.7">altas velocidades</tspan></text></g>
<g id="l3d"><rect x="230" y="444.65" width="20" height="4.7"/><text x="231" y="447.85">Cultivo celular</text></g>
<g id="l3d1"><rect x="188" y="432.3" width="40" height="7.4"/><text x="189" y="435.5">Crecimiento de células fuera<tspan x="189" dy="2.7">del organismo</tspan></text></g>
<g id="l3d2"><rect x="190" y="440.65" width="38" height="4.7"/><text x="191" y="443.85">Permite estudiar células vivas</text></g>
<g id="l3d3"><rect x="190" y="446.8" width="38" height="7.4"/><text x="191" y="450">Se emplean células madre y<tspan x="191" dy="2.7">líneas celulares</tspan></text></g>
<g id="l3d4"><rect x="187" y="460.65" width="41" height="4.7"/><text x="188" y="463.85">Requiere condiciones controladas</text></g>
<g id="l3d4a"><rect x="143" y="450.6" width="40" height="12.8"/><text x="144" y="453.8">Temperatura, pH, nutrientes,<tspan x="144" dy="2.7">gases y esterilidad</tspan><tspan x="144" dy="2.7">adecuados para mantener</tspan><tspan x="144" dy="2.7">la viabilidad celular</tspan></text></g>
<g id="l3d4b"><rect x="143" y="464.3" width="40" height="7.4"/><text x="144" y="467.5">Evitar la contaminación<tspan x="144" dy="2.7">por microorganismos</tspan></text></g>
<g id="l4"><rect x="259" y="572.65" width="22" height="4.7"/><text x="260" y="575.85">Estructura celular</text></g>
<g id="l4a"><rect x="232" y="495.65" width="24" height="4.7"/><text x="233" y="498.85">Células procariotas</text></g>
<g id="l4a1"><rect x="203" y="472.65" width="25" height="4.7"/><text x="204" y="475.85">Membrana plasmática</text></g>
<g id="l4a1a"><rect x="167" y="472.65" width="34" height="4.7"/><text x="168" y="475.85">Sin colesterol en su bicapa</text></g>
<g id="l4a2"><rect x="211" y="482.65" width="17" height="4.7"/><text x="212" y="485.85">Pared celular</text></g>
<g id="l4a2a"><rect x="171" y="477.3" width="36" height="7.4"/><text x="172" y="480.5">Rígida, formada por<tspan x="172" dy="2.7">peptidoglucano</tspan></text></g>
<g id="l4a2b"><rect x="171" y="485.3" width="36" height="7.4"/><text x="172" y="488.5">Protege y da forma<tspan x="172" dy="2.7">a la célula</tspan></text></g>
<g id="l4a3"><rect x="213" y="495.65" width="15" height="4.7"/><text x="214" y="498.85">Ribosomas</text></g>
<g id="l4a3a"><rect x="195" y="493.15" width="14" height="4.7"/><text x="196" y="496.35">Tipo 70S</text></g>
<g id="l4a3b"><rect x="181" y="498.65" width="28" height="4.7"/><text x="182" y="501.85">Síntesis de proteínas</text></g>
<g id="l4a4"><rect x="213" y="504.65" width="15" height="4.7"/><text x="214" y="507.85">Nucleoide</text></g>
<g id="l4a4a"><rect x="181" y="504.3" width="28" height="7.4"/><text x="182" y="507.5">ADN circular sin<tspan x="182" dy="2.7">membrana nuclear</tspan></text></g>
<g id="l4a5"><rect x="210" y="522.65" width="18" height="4.7"/><text x="211" y="525.85">Estructuras</text></g>
<g id="l4a5a"><rect x="192" y="512.65" width="14" height="4.7"/><text x="193" y="515.85">Flagelos</text></g>
<g id="l4a5b"><rect x="192" y="517.65" width="14" height="4.7"/><text x="193" y="520.85">Pili</text></g>
<g id="l4a5c"><rect x="192" y="522.65" width="14" height="4.7"/><text x="193" y="525.85">Fimbrias</text></g>
<g id="l4a5d"><rect x="192" y="527.65" width="14" height="4.7"/><text x="193" y="530.85">Cápsula</text></g>
<g id="l4a5e"><rect x="174" y="533.15" width="32" height="4.7"/><text x="175" y="536.35">Plásmidos (ADN extra)</text></g>
<g id="l4b"><rect x="223" y="569.65" width="33" height="4.7"/><text x="224" y="572.85">Procariotas vs. eucariotas</text></g>
<g id="l4c"><rect x="232" y="649.65" width="24" height="4.7"/><text x="233" y="652.85">Células eucariotas</text></g>
<g id="l4c1"><rect x="192" y="616.3" width="36" height="7.4"/><text x="193" y="619.5">Presentan núcleo definido<tspan x="193" dy="2.7">y organelos membranosos</tspan></text></g>
<g id="l4c1a"><rect x="170" y="610.65" width="18" height="4.7"/><text x="171" y="613.85">Célula animal</text></g>
<g id="l4c1a1"><rect x="130" y="604.3" width="36" height="7.4"/><text x="131" y="607.5">Sin pared celular, con<tspan x="131" dy="2.7">centríolos y lisosomas</tspan></text></g>
<g id="l4c1a2"><rect x="138" y="611.8" width="28" height="7.4"/><text x="139" y="615">Vacuolas pequeñas<tspan x="139" dy="2.7">y numerosas</tspan></text></g>
<g id="l4c1b"><rect x="170" y="627.65" width="18" height="4.7"/><text x="171" y="630.85">Célula vegetal</text></g>
<g id="l4c1b1"><rect x="140" y="620.65" width="26" height="4.7"/><text x="141" y="623.85">Pared de celulosa</text></g>
<g id="l4c1b2"><rect x="131" y="631.3" width="35" height="7.4"/><text x="132" y="634.5">Cloroplastos y una gran<tspan x="132" dy="2.7">vacuola central</tspan></text></g>
<g id="l4c2"><rect x="198" y="680.65" width="30" height="4.7"/><text x="199" y="683.85">Componentes principales</text></g>
<g id="l4c2a"><rect x="157" y="646.65" width="37" height="4.7"/><text x="158" y="649.85">Membrana, citoplasma y núcleo</text></g>
<g id="l4c2b"><rect x="150" y="652.15" width="44" height="4.7"/><text x="151" y="655.35">Organelos con funciones específicas</text></g>
<g id="l4c2c"><rect x="176" y="713.65" width="18" height="4.7"/><text x="177" y="716.85">Citoplasma</text></g>
<g id="l4c2c1"><rect x="157" y="685.65" width="15" height="4.7"/><text x="158" y="688.85">Organelos</text></g>
<g id="l4o1"><rect x="129" y="659.65" width="24" height="4.7"/><text x="130" y="662.85">Membrana plasmática</text></g>
<g id="l4o1a"><rect x="104" y="658.3" width="23" height="7.4"/><text x="105" y="661.5">Bicapa lipídica<tspan x="105" dy="2.7">con proteínas</tspan></text></g>
<g id="l4o2"><rect x="136" y="667.65" width="17" height="4.7"/><text x="137" y="670.85">Pared celular</text></g>
<g id="l4o2a"><rect x="112" y="665.95" width="22" height="10.1"/><text x="113" y="669.15">Presente en<tspan x="113" dy="2.7">plantas, hongos</tspan><tspan x="113" dy="2.7">y algas</tspan></text></g>
<g id="l4o3"><rect x="141" y="675.65" width="12" height="4.7"/><text x="142" y="678.85">Núcleo</text></g>
<g id="l4o4"><rect x="141" y="680.65" width="12" height="4.7"/><text x="142" y="683.85">Citosol</text></g>
<g id="l4o5"><rect x="135" y="685.65" width="18" height="4.7"/><text x="136" y="688.85">Mitocondrias</text></g>
<g id="l4o6"><rect x="135" y="691.15" width="18" height="4.7"/><text x="136" y="694.35">Cloroplastos</text></g>
<g id="l4o7"><rect x="137" y="696.65" width="16" height="4.7"/><text x="138" y="699.85">Ribosomas</text></g>
<g id="l4o8"><rect x="123" y="702.15" width="30" height="4.7"/><text x="124" y="705.35">Retículo endoplasmático</text></g>
<g id="l4o9"><rect x="130" y="707.65" width="23" height="4.7"/><text x="131" y="710.85">Aparato de Golgi</text></g>
<g id="l4o10"><rect x="139" y="713.65" width="14" height="4.7"/><text x="140" y="716.85">Vacuolas</text></g>
<g id="l4o10a"><rect x="113" y="712.3" width="24" height="7.4"/><text x="114" y="715.5">Almacenan agua<tspan x="114" dy="2.7">y sustancias</tspan></text></g>
</g>
<g id="tabla-diferencias" class="tb">
<rect x="163" y="540" width="55" height="63" fill="#e6f1dd"/>
<rect x="163" y="540" width="55" height="4.2" fill="#6aa84f"/>
<text x="176.75" y="542.8" text-anchor="middle" style="fill:#fff;font-size:1.7px">Célula procariota</text>
<text x="204.25" y="542.8" text-anchor="middle" style="fill:#fff;font-size:1.7px">Célula eucariota</text>
<rect x="163" y="551.55" width="55" height="7.35" fill="#f2f8ee"/>
<rect x="163" y="566.25" width="55" height="7.35" fill="#f2f8ee"/>
<rect x="163" y="580.95" width="55" height="7.35" fill="#f2f8ee"/>
<rect x="163" y="595.65" width="55" height="7.35" fill="#f2f8ee"/>
<path d="M190.5 544.2V603 M163 551.55H218 M163 558.9H218 M163 566.25H218 M163 573.6H218 M163 580.95H218 M163 588.3H218 M163 595.65H218" stroke="#fff" stroke-width=".3"/>
<text x="164" y="547">Sin núcleo definido; el ADN<tspan x="164" dy="1.8">se encuentra en el citoplasma</tspan></text>
<text x="191.5" y="547">Núcleo definido rodeado por<tspan x="191.5" dy="1.8">una envoltura nuclear</tspan></text>
<text x="164" y="554.4">ADN circular, sin histonas<tspan x="164" dy="1.8">(nucleoide)</tspan></text>
<text x="191.5" y="554.4">ADN lineal asociado a<tspan x="191.5" dy="1.8">histonas (cromosomas)</tspan></text>
<text x="164" y="561.7">Sin organelos membranosos</text>
<text x="191.5" y="561.7">Con organelos membranosos<tspan x="191.5" dy="1.8">(mitocondrias, RE, Golgi)</tspan></text>
<text x="164" y="569.1">Ribosomas 70S</text>
<text x="191.5" y="569.1">Ribosomas 80S</text>
<text x="164" y="576.4">Pared celular de<tspan x="164" dy="1.8">peptidoglucano</tspan></text>
<text x="191.5" y="576.4">Pared de celulosa o quitina<tspan x="191.5" dy="1.8">(plantas y hongos)</tspan></text>
<text x="164" y="583.8">Tamaño: 1 a 10 µm</text>
<text x="191.5" y="583.8">Tamaño: 10 a 100 µm</text>
<text x="164" y="591.1">División por fisión<tspan x="164" dy="1.8">binaria</tspan></text>
<text x="191.5" y="591.1">División por mitosis<tspan x="191.5" dy="1.8">y meiosis</tspan></text>
<text x="164" y="598.5">Bacterias y arqueas</text>
<text x="191.5" y="598.5">Animales, plantas, hongos<tspan x="191.5" dy="1.8">y protistas</tspan></text>
</g>
<text x="322.5" y="842.5" text-anchor="middle" style="font-size:3.4px;fill:#c4c4c4">Presented with xmind</text>
</svg>
